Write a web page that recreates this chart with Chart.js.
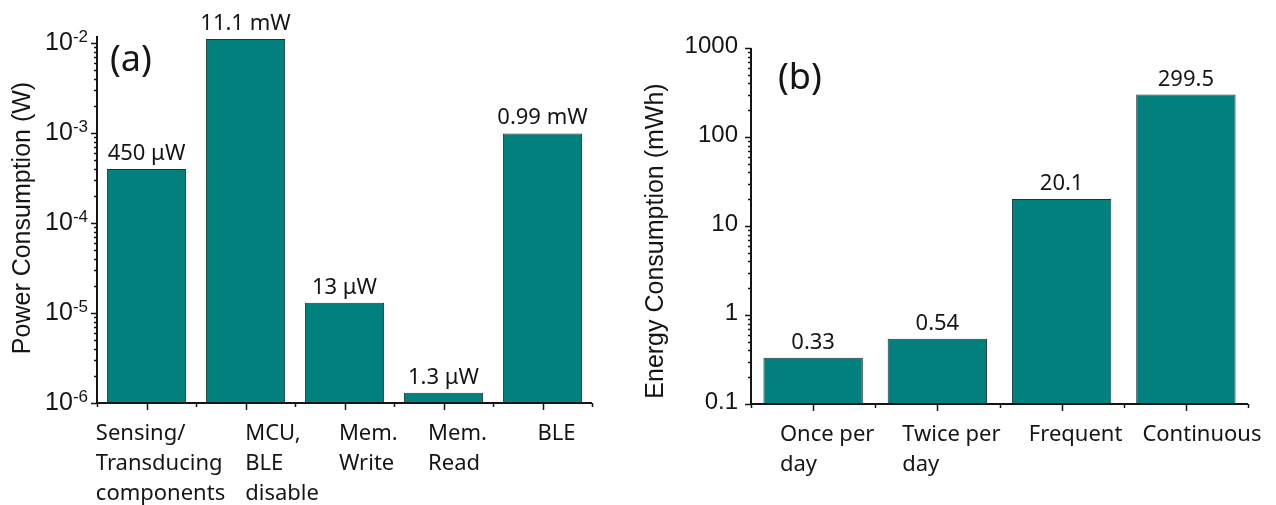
<!DOCTYPE html>
<html>
<head>
<meta charset="utf-8">
<script src="https://cdn.jsdelivr.net/npm/chart.js@4.4.0/dist/chart.umd.min.js"></script>
<style>
html, body { margin: 0; padding: 0; background: #fff; }
#wrapA { position: absolute; left: 0; top: 0; width: 615px; height: 505px; }
#wrapB { position: absolute; left: 630px; top: 0; width: 646px; height: 505px; }
</style>
</head>
<body>
<div id="wrapA"><canvas id="chartA"></canvas></div>
<div id="wrapB"><canvas id="chartB"></canvas></div>
<script>
// (a) power per block
const powerLabels = [['Sensing/', 'Transducing', 'components'], ['MCU,', 'BLE', 'disable'], ['Mem.', 'Write'], ['Mem.', 'Read'], ['BLE']];
const powerValues = [4.0e-4, 1.11e-2, 1.3e-5, 1.3e-6, 9.9e-4];
const powerText = ['450 μW', '11.1 mW', '13 μW', '1.3 μW', '0.99 mW'];
const powerTicks = [1e-6, 1e-5, 1e-4, 1e-3, 1e-2];
const powerTickExp = ['-6', '-5', '-4', '-3', '-2'];

// (b) energy per mode
const energyLabels = [['Once per', 'day'], ['Twice per', 'day'], ['Frequent'], ['Continuous']];
const energyValues = [0.33, 0.54, 20.1, 299.5];
const energyText = ['0.33', '0.54', '20.1', '299.5'];
const energyTicks = [0.1, 1, 10, 100, 1000];
const energyTickText = ['0.1', '1', '10', '100', '1000'];

const INK = '#151515';
const TEAL = '#02807e';
const SANS = '"Liberation Sans", Arial, sans-serif';
const CAL = '"Noto Sans", "Open Sans", sans-serif';

function makeDecor(cfg) {
    return {
        id: 'decor' + cfg.letter,
        afterDraw(chart) {
            const ctx = chart.ctx;
            const xs = chart.scales.x;
            const ys = chart.scales.y;
            const area = chart.chartArea;
            ctx.save();
            ctx.strokeStyle = INK;
            ctx.fillStyle = INK;

            // axis lines
            ctx.lineWidth = 2;
            ctx.beginPath();
            ctx.moveTo(area.left, area.top);
            ctx.lineTo(area.left, area.bottom);
            ctx.lineTo(area.right, area.bottom);
            ctx.stroke();

            // y ticks, major and minor
            ctx.lineWidth = 1.5;
            const lo = Math.floor(Math.log10(ys.min));
            const hi = Math.ceil(Math.log10(ys.max));
            ctx.beginPath();
            for (let d = lo; d <= hi; d++) {
                for (let k = 1; k <= 9; k++) {
                    const v = k * Math.pow(10, d);
                    if (v < ys.min * 0.999 || v > ys.max * 1.001) continue;
                    const y = Math.round(ys.getPixelForValue(v)) + 0.5;
                    const len = k === 1 ? 6 : 3;
                    ctx.moveTo(area.left - len, y);
                    ctx.lineTo(area.left, y);
                }
            }
            // x ticks: centres long, boundaries short
            const n = cfg.labels.length;
            for (let i = 0; i < n; i++) {
                const x = Math.round(xs.getPixelForValue(i)) + 0.5;
                ctx.moveTo(x, area.bottom);
                ctx.lineTo(x, area.bottom + 7);
            }
            for (let i = 0; i <= n; i++) {
                const x = Math.round(xs.getPixelForValue(i - 0.5)) + 0.5;
                ctx.moveTo(x, area.bottom);
                ctx.lineTo(x, area.bottom + 4);
            }
            ctx.stroke();

            // y tick labels
            ctx.textBaseline = 'middle';
            ctx.textAlign = 'right';
            cfg.ticks.forEach((v, i) => {
                const y = ys.getPixelForValue(v) - 1;
                if (cfg.exp) {
                    ctx.font = '17px ' + SANS;
                    const ex = cfg.exp[i];
                    const w = ctx.measureText(ex).width;
                    ctx.textBaseline = 'alphabetic';
                    ctx.fillText(ex, area.left - 9, y);
                    ctx.textBaseline = 'middle';
                    ctx.font = '25px ' + SANS;
                    ctx.fillText('10', area.left - 9 - w, y + 1);
                } else {
                    ctx.font = '24px ' + SANS;
                    ctx.fillText(cfg.tickText[i], area.left - 13, y - 1);
                }
            });

            // category labels, left aligned blocks, kept apart
            ctx.font = '22px ' + CAL;
            ctx.textAlign = 'left';
            ctx.textBaseline = 'alphabetic';
            let prevRight = -1e9;
            cfg.labels.forEach((lines, i) => {
                const x = xs.getPixelForValue(i);
                const w = Math.max(...lines.map(s => ctx.measureText(s).width));
                const left = Math.max(x + 14 - w / 2, prevRight + 20);
                lines.forEach((s, j) => {
                    ctx.fillText(s, left, area.bottom + 37 + j * 30);
                });
                prevRight = left + w;
            });

            // values over bars
            ctx.font = '22px ' + CAL;
            ctx.textAlign = 'center';
            chart.getDatasetMeta(0).data.forEach((bar, i) => {
                ctx.fillText(cfg.valueText[i], bar.x, bar.y - 9);
            });

            // panel letter
            ctx.font = '36px ' + CAL;
            ctx.textAlign = 'left';
            ctx.fillText('(' + cfg.letter + ')', cfg.letterX, cfg.letterY);

            // y title
            ctx.font = '25px ' + SANS;
            ctx.textAlign = 'center';
            ctx.textBaseline = 'middle';
            ctx.translate(cfg.titleX, cfg.titleY);
            ctx.rotate(-Math.PI / 2);
            ctx.fillText(cfg.title, 0, 0);
            ctx.restore();
        }
    };
}

function makeChart(id, labels, values, yMin, yMax, yWidth, xHeight, padding, decor) {
    return new Chart(document.getElementById(id), {
        type: 'bar',
        data: {
            labels: labels,
            datasets: [{
                data: values,
                backgroundColor: TEAL,
                borderColor: '#1f3333',
                borderWidth: 1,
                borderSkipped: false,
                barPercentage: 0.8,
                categoryPercentage: 1.0
            }]
        },
        options: {
            responsive: true,
            maintainAspectRatio: false,
            animation: false,
            layout: { padding: padding },
            plugins: {
                legend: { display: false },
                tooltip: { enabled: false }
            },
            scales: {
                x: {
                    grid: { display: false },
                    border: { display: false },
                    ticks: { display: false },
                    afterFit: (s) => { s.height = xHeight; }
                },
                y: {
                    type: 'logarithmic',
                    min: yMin,
                    max: yMax,
                    grid: { display: false },
                    border: { display: false },
                    ticks: { display: false },
                    afterFit: (s) => { s.width = yWidth; }
                }
            }
        },
        plugins: [decor]
    });
}

window.onload = () => {
    makeChart('chartA', powerLabels, powerValues, 1e-6, 1.2e-2, 97, 102,
        { top: 36, right: 23, bottom: 0, left: 0 },
        makeDecor({
            letter: 'a', labels: powerLabels, valueText: powerText,
            ticks: powerTicks, exp: powerTickExp,
            title: 'Power Consumption (W)', titleX: 23, titleY: 218,
            letterX: 110, letterY: 71
        }));

    makeChart('chartB', energyLabels, energyValues, 0.1, 1000, 121, 101,
        { top: 48, right: 28, bottom: 0, left: 0 },
        makeDecor({
            letter: 'b', labels: energyLabels, valueText: energyText,
            ticks: energyTicks, tickText: energyTickText,
            title: 'Energy Consumption (mWh)', titleX: 26, titleY: 241,
            letterX: 148, letterY: 89
        }));
};
</script>
</body>
</html>
